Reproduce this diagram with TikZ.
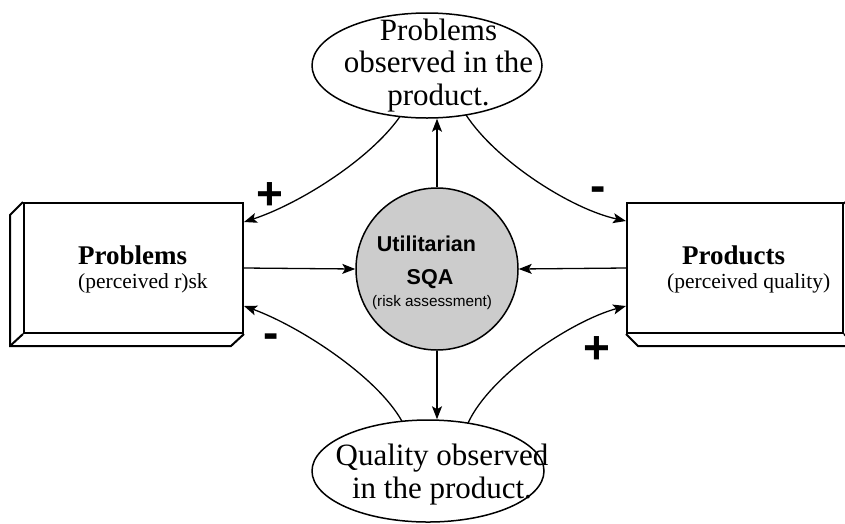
\documentclass[tikz,border=0pt]{standalone}
\usepackage{fontspec}
\setmainfont{Liberation Serif}
\newfontfamily\arialf{Liberation Sans}
\usetikzlibrary{shapes.geometric,arrows.meta,calc}

\definecolor{sqagray}{RGB}{204,204,204}

\tikzset{
  conn/.style={line width=1.3pt,-{Stealth[length=13pt,width=10pt,inset=3pt]}},
  frontface/.style={draw,line width=2pt,rectangle,minimum width=219pt,minimum height=130pt,inner sep=0pt,fill=white},
  sidefaces/.style={line width=2pt,line join=miter},
  cloud/.style={draw,line width=1.5pt,ellipse,inner sep=0pt},
  cloudtext/.style={align=center,inner sep=0pt,font=\fontsize{31}{32.5}\selectfont},
  boxtitle/.style={inner sep=0pt,anchor=base west,font=\fontsize{27}{30}\selectfont\bfseries},
  boxnote/.style={inner sep=0pt,anchor=base west,font=\fontsize{21.5}{24}\selectfont},
  hubtitle/.style={inner sep=0pt,anchor=base,font=\arialf\fontsize{21.5}{24}\selectfont\bfseries},
  hubnote/.style={inner sep=0pt,anchor=base,font=\arialf\fontsize{15.3}{18}\selectfont},
  sign/.style={inner sep=0pt,font=\arialf\fontsize{46}{50}\selectfont\bfseries},
}

\begin{document}
\begin{tikzpicture}[x=1pt,y=-1pt]
\useasboundingbox (0,0) rectangle (845,523);

% central assessment disc
\node[circle,draw,line width=1.5pt,fill=sqagray,minimum size=162pt,inner sep=0pt] (sqa) at (437,269) {};
\node[hubtitle] (sqa1) at (426.5,251) {Utilitarian};
\node[hubtitle] (sqa2) at (430,284) {SQA};
\node[hubnote] (sqa3) at (432,306.5) {(risk assessment)};

% left 3-D box
\node[frontface] (lbox) at (133.5,268) {};
\draw[sidefaces] (lbox.north west) -- ++(-13,13) -- ($(lbox.south west)+(-13,12)$)
  -- ($(lbox.south east)+(-13,12)$) -- (lbox.south east);
\draw[sidefaces] (lbox.south west) -- ++(-13,12);
\node[boxtitle] (ltitle) at (78,264) {Problems};
\node[boxnote] (lnote) at (78,288.5) {(perceived r)sk};

% right 3-D box
\node[frontface,minimum width=216pt] (rbox) at (735,268) {};
\draw[sidefaces] (rbox.south west) -- ++(12,12) -- ($(rbox.south east)+(12,12)$)
  -- ($(rbox.north east)+(12,12)$) -- (rbox.north east);
\draw[sidefaces] (rbox.south east) -- ++(12,12);
\node[boxtitle] (rtitle) at (682,264) {Products};
\node[boxnote] (rnote) at (667,288.5) {(perceived quality)};

% observation clouds (multi-line text is anchored on its last baseline)
\node[cloud,minimum width=230pt,minimum height=105pt] (top) at (427,65.5) {};
\node[cloudtext,anchor=base] (toptext) at (438.5,105) {Problems\\observed in the\\product.};
\node[cloud,minimum width=232pt,minimum height=102pt] (bot) at (428,471) {};
\node[cloudtext,anchor=base] (bottext) at (442,498) {Quality observed\\in the product.};

% straight connectors
\draw[conn] (sqa.north) -- (sqa.north |- top.south);
\draw[conn] (sqa.south) -- (sqa.south |- bot.north);
\draw[conn] (lbox.east) -- (sqa.west);
\draw[conn] (rbox.west) -- (sqa.east);

% curved feedback connectors
\draw[conn] ($(top.center)+(-27,51)$) .. controls +(-30,43) and +(55,-18) .. ($(lbox.north east)+(0,20)$);
\draw[conn] ($(top.center)+(39,49.4)$) .. controls +(30,46) and +(-55,-12) .. ($(rbox.north west)+(0,19)$);
\draw[conn] ($(bot.center)+(-26,-49.7)$) .. controls +(-25,-45) and +(55,20) .. ($(lbox.south east)+(0,-28)$);
\draw[conn] ($(bot.center)+(40,-47.9)$) .. controls +(22,-48) and +(-55,15) .. ($(rbox.south west)+(0,-28)$);

% polarity signs
\node[sign] (s1) at (270,196) {+};
\node[sign] (s2) at (598,194) {-};
\node[sign] (s3) at (271,341) {-};
\node[sign] (s4) at (597,350) {+};
\end{tikzpicture}
\end{document}
